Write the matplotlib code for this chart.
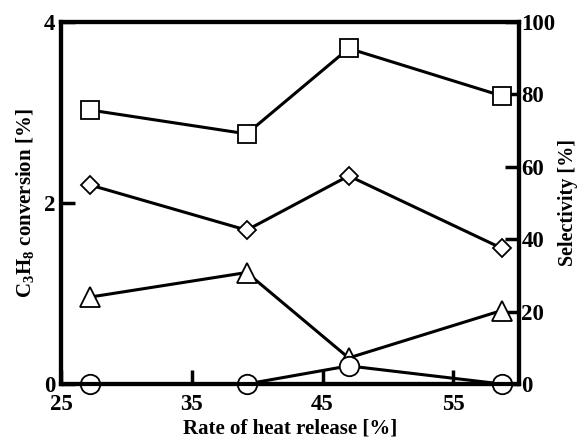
import matplotlib
matplotlib.use('Agg')
import matplotlib.pyplot as plt

plt.rcParams['font.family'] = 'Liberation Serif'
plt.rcParams['font.weight'] = 'bold'

# data (selectivity scale, %)
heat = [27.2, 39.2, 47.0, 58.7]
squares = [75.7, 69.1, 92.7, 79.6]
diamonds = [55.0, 42.5, 57.5, 37.5]
triangles = [24.0, 30.8, 7.2, 20.3]
circles = [0.0, 0.0, 5.0, 0.0]

fig = plt.figure(figsize=(5.81, 4.38), dpi=100)
ax = fig.add_axes([61/581, 1 - 384/438, (518.7-61)/581, (384-22)/438])
ax2 = ax.twinx()

ax.set_xlim(25, 60)
ax.set_ylim(0, 4)
ax2.set_ylim(0, 100)

style = dict(color='black', lw=2.2, mfc='white', mec='black', mew=1.3, clip_on=False)
ax2.plot(heat, squares, marker='s', ms=13, **style)
ax2.plot(heat, diamonds, marker='D', ms=9, **style)
ax2.plot(heat, triangles, marker='^', ms=14, **style)
ax2.plot(heat, circles, marker='o', ms=14, **style)

for a in (ax, ax2):
    for s in a.spines.values():
        s.set_linewidth(3)
ax.set_xticks([25, 35, 45, 55])
ax.set_yticks([0, 2, 4])
ax2.set_yticks([0, 20, 40, 60, 80, 100])
ax.tick_params(axis='both', direction='in', length=10, width=2.5, labelsize=16.5, pad=4)
ax2.tick_params(axis='y', direction='in', length=10, width=2.5, labelsize=16.5, pad=2)
ax.tick_params(axis='x', pad=7)

ax.set_xlabel('Rate of heat release [%]', fontsize=15, fontweight='bold', labelpad=3)
ax.set_ylabel(r'C$_\mathregular{3}$H$_\mathregular{8}$ conversion [%]', fontsize=15, fontweight='bold', labelpad=5)
ax2.set_ylabel('Selectivity [%]', fontsize=14.5, fontweight='bold', labelpad=2)

fig.savefig('out.png', dpi=100)
